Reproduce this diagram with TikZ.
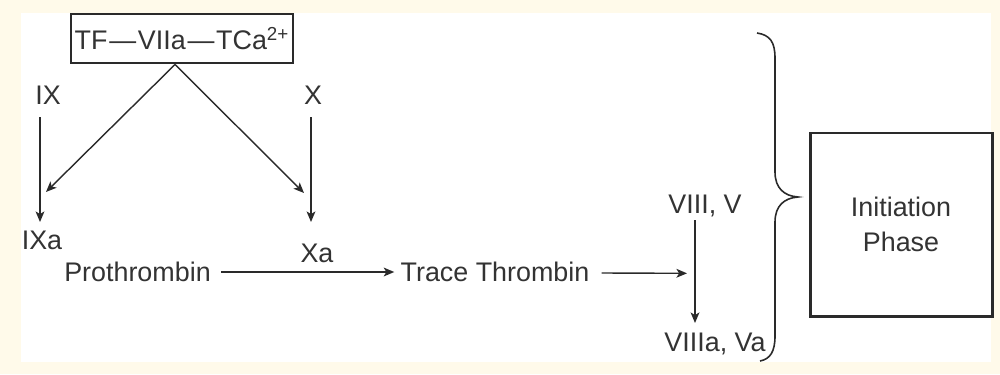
\documentclass[tikz,border=0pt]{standalone}
\usepackage{fontspec}
\setmainfont{Liberation Sans}
\usetikzlibrary{arrows.meta,calc}
\definecolor{cream}{HTML}{FFFAEA}
\definecolor{ink}{HTML}{2A2A2A}
\definecolor{txtc}{HTML}{333333}
\begin{document}
\begin{tikzpicture}[x=0.2mm,y=-0.2mm,
  txt/.style={inner sep=0pt,text height=11pt,text depth=0pt,text=txtc,
    font=\fontsize{15.3}{20}\selectfont},
  arr/.style={draw=ink,line width=0.8pt,-{Stealth[length=6pt,width=5pt,inset=1.5pt]}},
  boxed/.style={draw=ink,line width=1.7pt,fill=white,text=txtc,
    font=\fontsize{15.3}{20}\selectfont}]
\useasboundingbox (0,0) rectangle (1000,374);
\fill[cream] (0,0) rectangle (1000,374);
\fill[white] (21,13) rectangle (991,362);

\node[boxed,minimum width=44.4mm,minimum height=9.8mm,inner sep=0pt] (top) at (182,38.5)
  {TF\kern1pt---\kern1ptVIIa\kern1pt---\kern1ptTCa\textsuperscript{2+}};
\node[txt] (IX) at (48,95) {IX};
\node[txt] (X) at (313,95) {X};
\node[txt] (IXa) at (42,240) {IXa};
\node[txt] (Xa) at (317,253) {Xa};
\node[txt] (Pro) at (137.5,272) {Prothrombin};
\node[txt] (TT) at (495,272) {Trace Thrombin};
\node[txt] (VIII) at (705,204) {VIII, V};
\node[txt] (VIIIa) at (715,342) {VIIIa, Va};
\node[boxed,minimum width=36.4mm,minimum height=36.6mm,align=center] (init) at (901,224.5)
  {Initiation\\Phase};

\draw[arr] ($(top.south)+(-7,0)$) -- ($(IXa.north)+(4,-38)$);
\draw[arr] ($(top.south)+(-7,0)$) -- ($(Xa.north)+(-13,-50)$);
\draw[arr] ($(IX.south)+(-8,12)$) -- ($(IXa.north)+(-2,-8)$);
\draw[arr] ($(X.south)+(-2,12)$) -- ($(Xa.north)+(-6,-21)$);
\draw[arr] ($(Pro.east)+(10,0)$) -- ($(TT.west)+(-6,0)$);
\draw[arr] ($(TT.east)+(12,1)$) -- ($(VIII.south)+(-18,59.3)$);
\draw[arr] ($(VIII.south)+(-10,6)$) -- ($(VIIIa.north)+(-20,-9)$);

\draw[ink,line width=0.9pt] (757,33) .. controls (770,35) and (775,42) .. (775,58)
  -- (775,172) .. controls (775,188) and (784,196) .. (798,197)
  .. controls (784,198) and (775,206) .. (775,222)
  -- (775,336) .. controls (775,352) and (770,359) .. (760,361);
\end{tikzpicture}
\end{document}
